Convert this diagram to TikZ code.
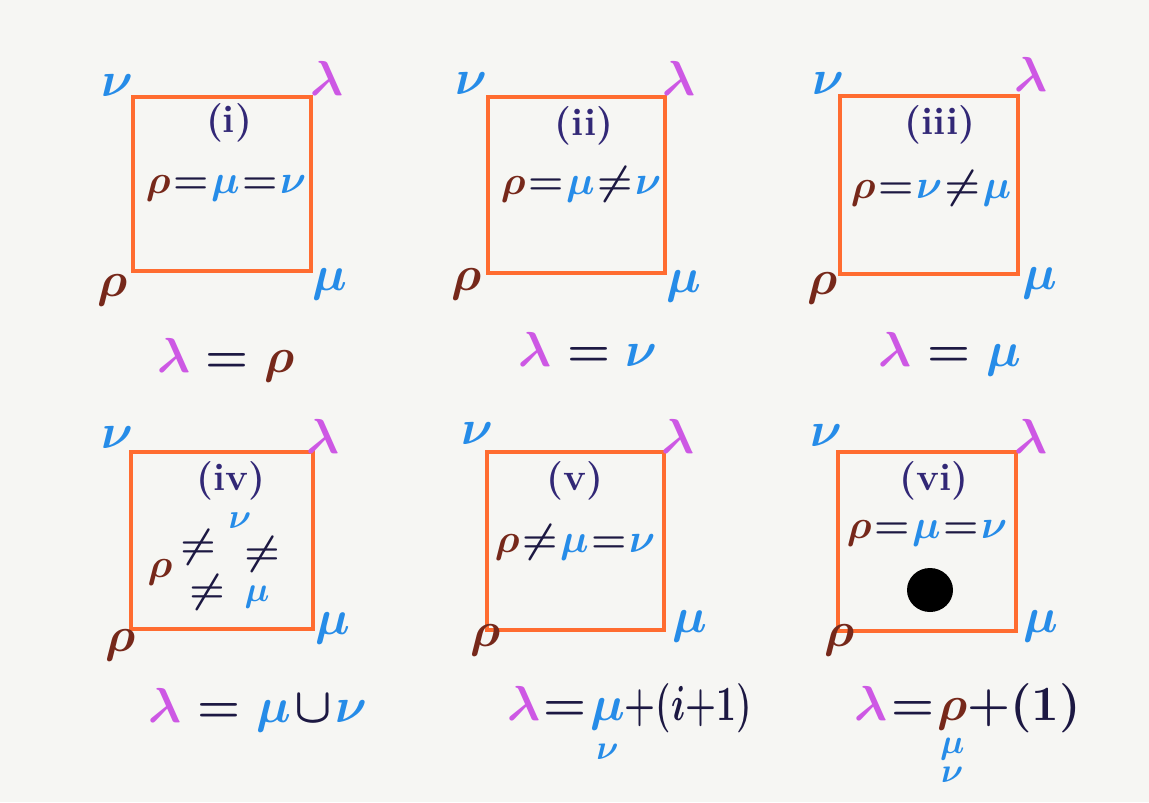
\RequirePackage{fix-cm}
\documentclass[tikz,border=0pt]{standalone}
\usepackage{amsmath,amssymb}
\usepackage{tikz}
\usetikzlibrary{positioning}
\usepackage{xcolor}

\definecolor{paper}{RGB}{246,246,243}
\definecolor{boxorange}{RGB}{255,108,48}
\definecolor{inkblue}{RGB}{38,140,232}
\definecolor{inkbrown}{RGB}{118,40,26}
\definecolor{inkpink}{RGB}{205,88,228}
\definecolor{inknavy}{RGB}{28,24,66}
\definecolor{inkpurple}{RGB}{50,40,118}

\newcommand{\cRho}{{\color{inkbrown}\rho}}
\newcommand{\cMu}{{\color{inkblue}\mu}}
\newcommand{\cNu}{{\color{inkblue}\nu}}
\newcommand{\cLam}{{\color{inkpink}\lambda}}
\newcommand{\cEq}{\mathrel{\mkern-4mu{\color{inknavy}=}\mkern-4mu}}
\newcommand{\cNe}{\mathrel{\mkern-4mu{\color{inknavy}\neq}\mkern-4mu}}
\newcommand{\wEq}{\mathrel{\color{inknavy}=}}

\begin{document}
\begin{tikzpicture}[x=0.02cm, y=-0.02cm,
  boxline/.style={draw=boxorange, line width=2.6pt},
  corner/.style={font=\boldmath\fontsize{28}{30}\selectfont, inner sep=0pt},
  tag/.style={font=\bfseries\fontsize{22}{24}\selectfont, text=inkpurple, inner sep=0pt},
  rel/.style={font=\boldmath\fontsize{23}{26}\selectfont, inner sep=0pt},
  small rel/.style={font=\boldmath\fontsize{20}{22}\selectfont, inner sep=0pt},
  result/.style={font=\boldmath\fontsize{28}{30}\selectfont, inner sep=0pt, anchor=base}]
\fill[paper] (0,0) rectangle (1149,802);
\useasboundingbox (0,0) rectangle (1149,802);
% -- panel (i) --
\coordinate (i-sw) at (133,271);
\coordinate (i-ne) at (311,97);
\draw[boxline] (i-sw) rectangle (i-ne);
\node[corner] (i-nu) at (117,86) {$\cNu$};
\node[corner] (i-lam) at (327,78) {$\cLam$};
\node[corner] (i-rho) at (113,290) {$\cRho$};
\node[corner] (i-mu) at (330,284) {$\cMu$};
\node[tag] (i-tag) at (229,123) {(i)};
\node[rel] (i-rel) at (226,188) {$\cRho \cEq \cMu \cEq \cNu$};
\node[result] (i-res) at (226,372) {$\cLam \wEq \cRho$};
% -- panel (ii) --
\coordinate (ii-sw) at (488,273);
\coordinate (ii-ne) at (665,97);
\draw[boxline] (ii-sw) rectangle (ii-ne);
\node[corner] (ii-nu) at (471,84) {$\cNu$};
\node[corner] (ii-lam) at (679,78) {$\cLam$};
\node[corner] (ii-rho) at (467,284) {$\cRho$};
\node[corner] (ii-mu) at (684,286) {$\cMu$};
\node[tag] (ii-tag) at (584,126) {(ii)};
\node[rel] (ii-rel) at (581,184) {$\cRho \cEq \cMu \cNe \cNu$};
\node[result] (ii-res) at (588,366) {$\cLam \wEq \cNu$};
% -- panel (iii) --
\coordinate (iii-sw) at (840,274);
\coordinate (iii-ne) at (1018,96);
\draw[boxline] (iii-sw) rectangle (iii-ne);
\node[corner] (iii-nu) at (828,84) {$\cNu$};
\node[corner] (iii-lam) at (1031,74) {$\cLam$};
\node[corner] (iii-rho) at (823,288) {$\cRho$};
\node[corner] (iii-mu) at (1040,283) {$\cMu$};
\node[tag] (iii-tag) at (940,125) {(iii)};
\node[rel] (iii-rel) at (931,188) {$\cRho \cEq \cNu \cNe \cMu$};
\node[result] (iii-res) at (950,366) {$\cLam \wEq \cMu$};
% -- panel (iv) --
\coordinate (iv-sw) at (131,629);
\coordinate (iv-ne) at (313,452);
\draw[boxline] (iv-sw) rectangle (iv-ne);
\node[corner] (iv-nu) at (117,438) {$\cNu$};
\node[corner] (iv-lam) at (323,436) {$\cLam$};
\node[corner] (iv-rho) at (121,645) {$\cRho$};
\node[corner] (iv-mu) at (333,628) {$\cMu$};
\node[tag] (iv-tag) at (231,481) {(iv)};
\node[rel] (iv-rho2) at (160,572) {$\cRho$};
\node[small rel] (iv-nu2) at (240,521) {$\cNu$};
\node[small rel] (iv-mu2) at (257,597) {$\cMu$};
\node[rel] (iv-ne1) at (198,547) {${\color{inknavy}\neq}$};
\node[rel] (iv-ne2) at (262,554) {${\color{inknavy}\neq}$};
\node[rel] (iv-ne3) at (207,592) {${\color{inknavy}\neq}$};
\node[result] (iv-res) at (258,722) {$\cLam \wEq \cMu \mkern-3mu\mathbin{\color{inknavy}\cup}\mkern-3mu \cNu$};
% -- panel (v) --
\coordinate (v-sw) at (487,630);
\coordinate (v-ne) at (664,452);
\draw[boxline] (v-sw) rectangle (v-ne);
\node[corner] (v-nu) at (477,434) {$\cNu$};
\node[corner] (v-lam) at (678,436) {$\cLam$};
\node[corner] (v-rho) at (486,640) {$\cRho$};
\node[corner] (v-mu) at (690,626) {$\cMu$};
\node[tag] (v-tag) at (575,481) {(v)};
\node[rel] (v-rel) at (575,542) {$\cRho \cNe \cMu \cEq \cNu$};
\node[result] (v-res) at (630,720) {$\cLam \cEq \underset{\cNu}{\cMu}$\scalebox{0.72}[1]{\color{inknavy}${+}(i{+}1)$}};
% -- panel (vi) --
\coordinate (vi-sw) at (838,631);
\coordinate (vi-ne) at (1016,452);
\draw[boxline] (vi-sw) rectangle (vi-ne);
\node[corner] (vi-nu) at (826,436) {$\cNu$};
\node[corner] (vi-lam) at (1031,436) {$\cLam$};
\node[corner] (vi-rho) at (840,640) {$\cRho$};
\node[corner] (vi-mu) at (1041,626) {$\cMu$};
\node[tag] (vi-tag) at (934,481) {(vi)};
\node[rel] (vi-rel) at (927,533) {$\cRho \cEq \cMu \cEq \cNu$};
\fill[black] (930,590) ellipse (23 and 22);
\node[result] (vi-res) at (968,720) {$\cLam \cEq \underset{\substack{\cMu\\ \cNu}}{\cRho}{\color{inknavy}{+}(1)}$};
\end{tikzpicture}
\end{document}
